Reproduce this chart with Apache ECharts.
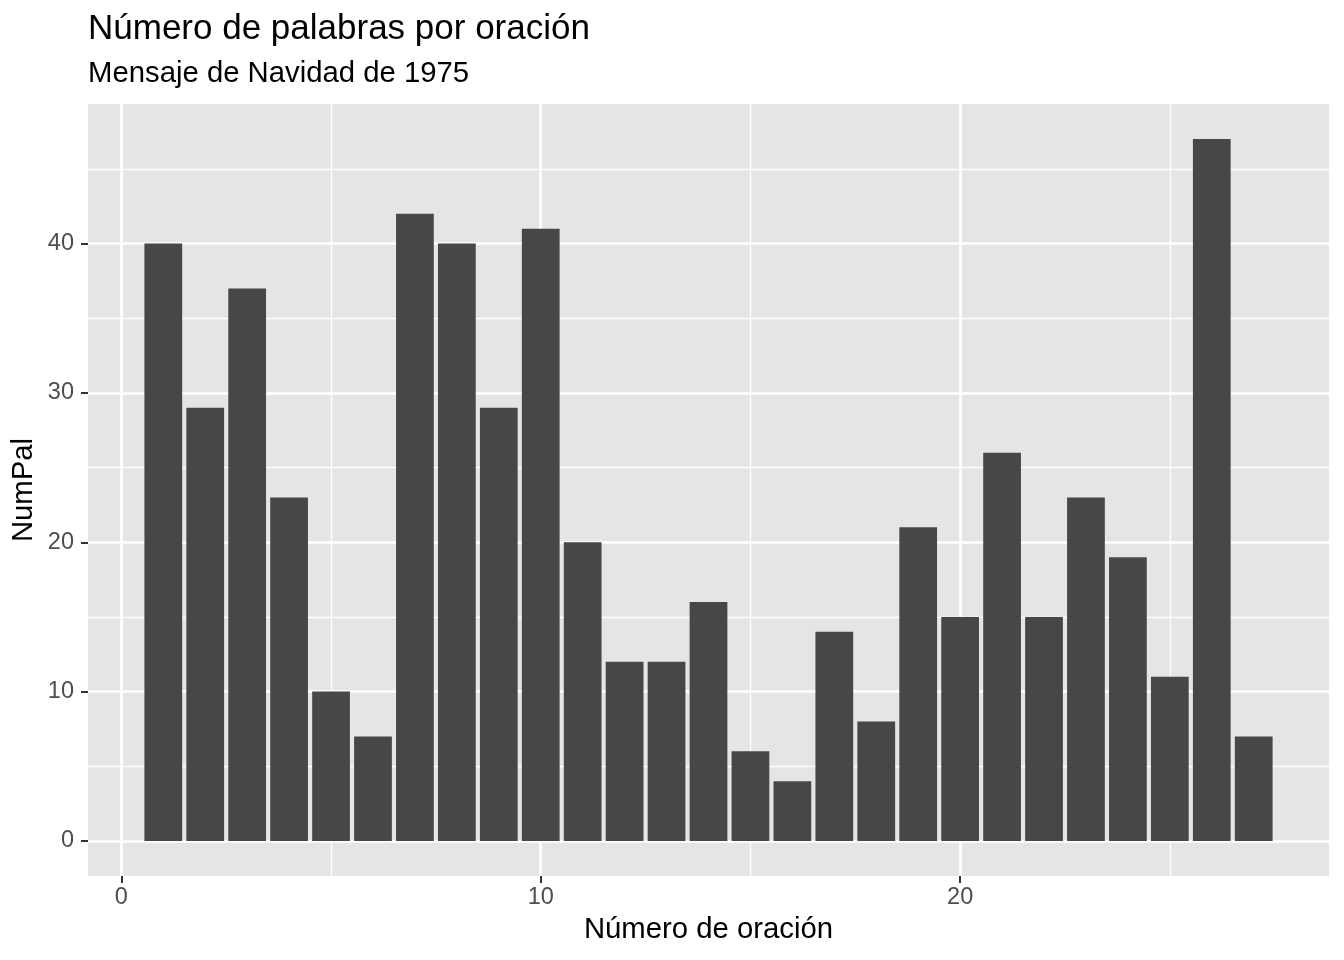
<!DOCTYPE html>
<html>
<head>
<meta charset="utf-8">
<script src="https://cdn.jsdelivr.net/npm/echarts@6/dist/echarts.min.js"></script>
<style>html,body{margin:0;padding:0;background:#fff}#c{width:1344px;height:960px}</style>
</head>
<body>
<div id="c"></div>
<script>
// ---- data ----
const sentences = [1,2,3,4,5,6,7,8,9,10,11,12,13,14,15,16,17,18,19,20,21,22,23,24,25,26,27];
const numPal = [40,29,37,23,10,7,42,40,29,41,20,12,12,16,6,4,14,8,21,15,26,15,23,19,11,47,7];
const xTicks = [0,10,20];
const xMinor = [5,15,25];
const yTicks = [0,10,20,30,40];
const yMinor = [5,15,25,35,45];

const FONT = "'Liberation Sans', Arial, Helvetica, sans-serif";
const W = 1344, H = 960;
const grid = {left: 88, right: 15, top: 104, bottom: 84};

// ggplot-like expansion (5%)
const xlo = Math.min(...sentences) - 0.45, xhi = Math.max(...sentences) + 0.45;
const xpad = 0.05 * (xhi - xlo);
const xMin = xlo - xpad, xMax = xhi + xpad;
const ylo = 0, yhi = Math.max(...numPal);
const ypad = 0.05 * (yhi - ylo);
const yMin = ylo - ypad, yMax = yhi + ypad;

const gridW = W - grid.left - grid.right;
const barW = 0.9 * gridW / (xMax - xMin);

const chart = echarts.init(document.getElementById('c'), null, {renderer: 'canvas'});

const majorLine = {color: '#ffffff', width: 2.6, type: 'solid'};
const minorLine = {color: '#ffffff', width: 1.3, type: 'solid'};
function ml(list, key, style) {
  return list.map(v => ({[key]: v, lineStyle: style}));
}

const option = {
  backgroundColor: '#ffffff',
  animation: false,
  grid: Object.assign({show: true, backgroundColor: '#E5E5E5', borderWidth: 0, containLabel: false, z: 0}, grid),
  xAxis: {
    type: 'value', min: xMin, max: xMax,
    axisLine: {show: false, onZero: false},
    splitLine: {show: false},
    axisTick: {show: true, inside: false, customValues: xTicks, length: 7, lineStyle: {color: '#333333', width: 2}},
    axisLabel: {show: true, customValues: xTicks, margin: 10, fontSize: 23.5, lineHeight: 24, color: '#4D4D4D', fontFamily: FONT}
  },
  yAxis: {
    type: 'value', min: yMin, max: yMax,
    axisLine: {show: false, onZero: false},
    splitLine: {show: false},
    axisTick: {show: true, inside: false, customValues: yTicks, length: 7, lineStyle: {color: '#333333', width: 2}},
    axisLabel: {show: true, customValues: yTicks, margin: 14, fontSize: 23.5, color: '#4D4D4D', fontFamily: FONT}
  },
  series: [
    {
      type: 'line', data: [], z: 1, silent: true,
      markLine: {
        z: 1, zlevel: 0,
        silent: true, symbol: ['none', 'none'], label: {show: false}, animation: false,
        emphasis: {disabled: true},
        data: [].concat(
          ml(xMinor, 'xAxis', minorLine),
          ml(yMinor, 'yAxis', minorLine),
          ml(xTicks, 'xAxis', majorLine),
          ml(yTicks, 'yAxis', majorLine)
        )
      }
    },
    {
      type: 'bar', z: 5,
      data: sentences.map((s, i) => [s, numPal[i]]),
      barWidth: barW,
      itemStyle: {color: '#474747'},
      silent: true
    }
  ],
  graphic: [
    {type: 'text', x: 88, y: 29, style: {text: 'Número de palabras por oración', font: '35px ' + FONT, fill: '#000000', align: 'left', verticalAlign: 'middle'}},
    {type: 'text', x: 88, y: 73.5, style: {text: 'Mensaje de Navidad de 1975', font: '29.3px ' + FONT, fill: '#000000', align: 'left', verticalAlign: 'middle'}},
    {type: 'text', x: grid.left + gridW / 2, y: 930, style: {text: 'Número de oración', font: '29.3px ' + FONT, fill: '#000000', align: 'center', verticalAlign: 'middle'}},
    {type: 'text', x: 24, y: grid.top + (H - grid.top - grid.bottom) / 2, rotation: Math.PI / 2, style: {text: 'NumPal', font: '29.3px ' + FONT, fill: '#000000', align: 'center', verticalAlign: 'middle'}}
  ]
};
chart.setOption(option);
</script>
</body>
</html>
